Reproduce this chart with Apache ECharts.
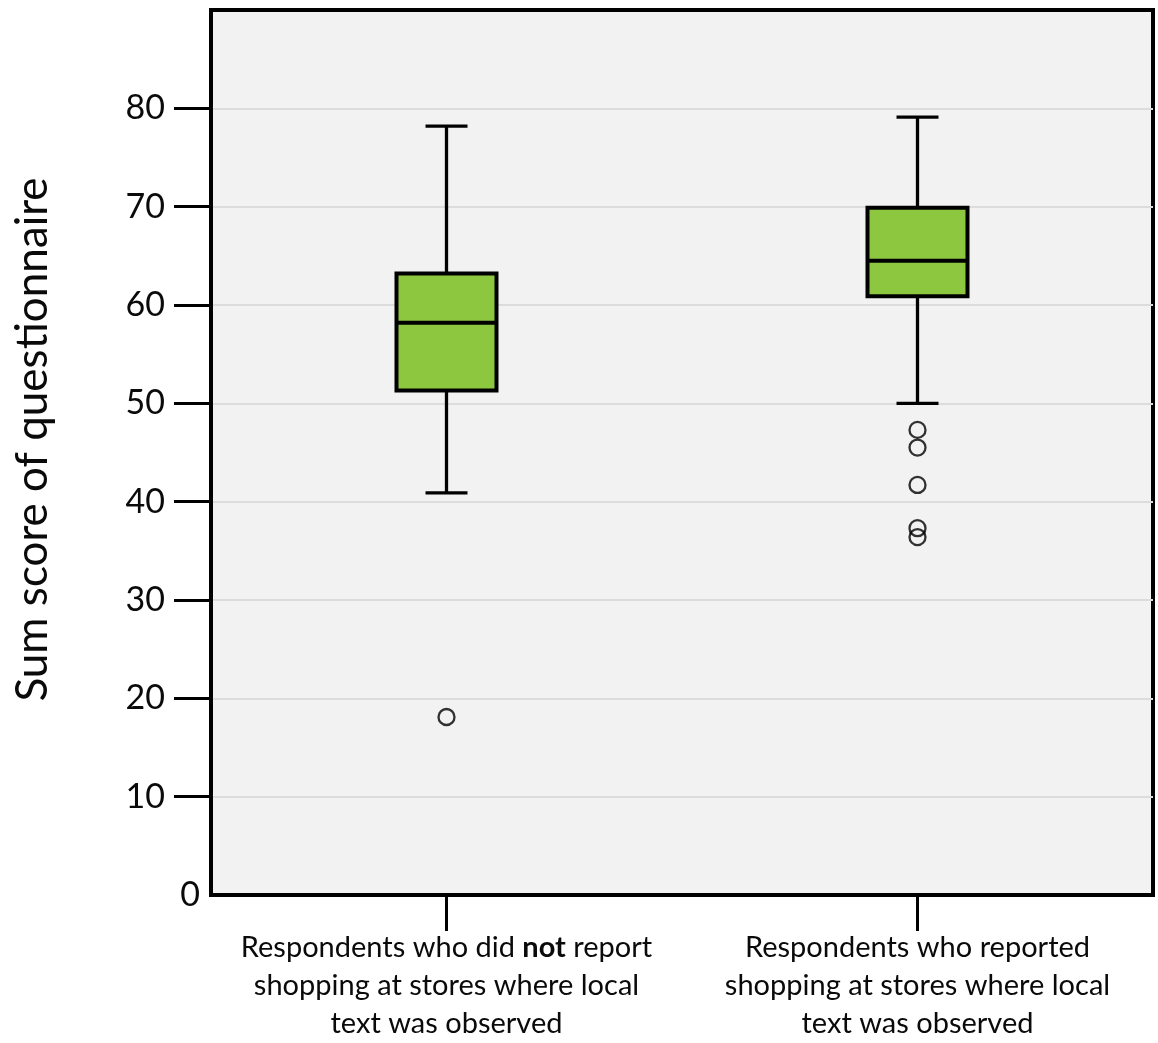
<!DOCTYPE html>
<html><head><meta charset="utf-8">
<script src="https://cdn.jsdelivr.net/npm/echarts@6/dist/echarts.min.js"></script>
<style>html,body{margin:0;padding:0;background:#fff}#c{width:1158px;height:1043px}</style>
</head><body><div id="c"></div>
<script>
const categories = [
  "Respondents who did {b|not} report\nshopping at stores where local\ntext was observed",
  "Respondents who reported\nshopping at stores where local\ntext was observed"
];
// [min, Q1, median, Q3, max]
const boxNotReport = [40.9, 51.3, 58.2, 63.2, 78.2];
const boxReported = [50.0, 60.9, 64.5, 69.9, 79.1];
const outliersNotReport = [18.1];
const outliersReported = [47.3, 45.5, 41.7, 37.3, 36.4];
const yTicks = [10, 20, 30, 40, 50, 60, 70, 80];

const FONT = 'Lato';
const boxes = [boxNotReport, boxReported].map((b, i) => [i].concat(b));
const outliers = [];
outliersNotReport.forEach(v => outliers.push([0, v]));
outliersReported.forEach(v => outliers.push([1, v]));

const chart = echarts.init(document.getElementById('c'), null, {renderer: 'canvas'});
chart.setOption({
  animation: false,
  grid: {left: 211, right: 5, top: 10, bottom: 148, show: true, containLabel: false,
    outerBoundsMode: 'none',
    backgroundColor: '#f2f2f2', borderColor: '#000', borderWidth: 4},
  xAxis: {
    type: 'category', data: categories, boundaryGap: true,
    axisLine: {show: true, lineStyle: {color: '#000', width: 4}},
    axisTick: {show: true, interval: 0, alignWithLabel: true, length: 36, lineStyle: {color: '#000', width: 3}},
    axisLabel: {interval: 0, hideOverlap: false, margin: 34, fontFamily: FONT, fontSize: 29, color: '#0a0a0a', lineHeight: 38, align: 'center',
      rich: {b: {fontFamily: FONT, fontSize: 29, fontWeight: 'bold', color: '#0a0a0a', lineHeight: 38}}},
    splitLine: {show: false}
  },
  yAxis: [{
    type: 'value', min: 0, max: 90, interval: 10,
    name: 'Sum score of questionnaire', nameLocation: 'middle', nameGap: 156,
    nameTextStyle: {fontFamily: FONT, fontSize: 44, color: '#0a0a0a', padding: [0, 0, 0, 26]},
    axisLine: {show: true, lineStyle: {color: '#000', width: 4}},
    axisTick: {show: true, length: 37, customValues: yTicks, lineStyle: {color: '#000', width: 3}},
    axisLabel: {margin: 46, customValues: yTicks, fontFamily: FONT, fontSize: 34, color: '#0a0a0a'},
    splitLine: {show: true, lineStyle: {color: '#dcdcdc', width: 2}}
  }, {
    type: 'value', min: 0, max: 90, interval: 10, position: 'left',
    axisLine: {show: false}, axisTick: {show: false}, splitLine: {show: false},
    axisLabel: {margin: 11, customValues: [0], fontFamily: FONT, fontSize: 34, color: '#0a0a0a'}
  }],
  series: [{
    type: 'custom',
    data: boxes,
    encode: {x: 0, y: [1, 2, 3, 4, 5]},
    renderItem: function (params, api) {
      const idx = api.value(0);
      const pMin = api.coord([idx, api.value(1)]);
      const pQ1 = api.coord([idx, api.value(2)]);
      const pMed = api.coord([idx, api.value(3)]);
      const pQ3 = api.coord([idx, api.value(4)]);
      const pMax = api.coord([idx, api.value(5)]);
      const x = pMin[0];
      const hw = 50, cw = 21;
      const ls = {stroke: '#000', lineWidth: 3.3};
      return {type: 'group', children: [
        {type: 'line', shape: {x1: x, y1: pMax[1], x2: x, y2: pQ3[1]}, style: ls},
        {type: 'line', shape: {x1: x, y1: pQ1[1], x2: x, y2: pMin[1]}, style: ls},
        {type: 'line', shape: {x1: x - cw, y1: pMax[1], x2: x + cw, y2: pMax[1]}, style: ls},
        {type: 'line', shape: {x1: x - cw, y1: pMin[1], x2: x + cw, y2: pMin[1]}, style: ls},
        {type: 'rect', shape: {x: x - hw, y: pQ3[1], width: 2 * hw, height: pQ1[1] - pQ3[1]},
          style: {fill: '#8dc63f', stroke: '#000', lineWidth: 4}},
        {type: 'line', shape: {x1: x - hw, y1: pMed[1], x2: x + hw, y2: pMed[1]}, style: {stroke: '#000', lineWidth: 4}}
      ]};
    },
    z: 3
  }, {
    type: 'scatter', data: outliers, symbol: 'circle', symbolSize: 16,
    itemStyle: {color: 'rgba(0,0,0,0)', borderColor: '#000', borderWidth: 2.3}, z: 4
  }]
});
</script></body></html>
